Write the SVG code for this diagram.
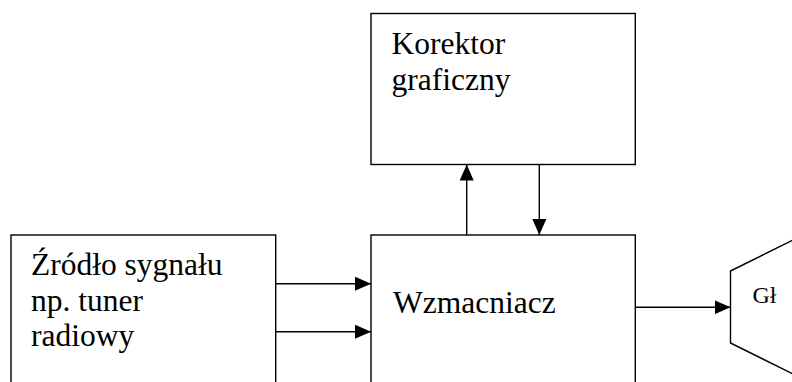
<svg xmlns="http://www.w3.org/2000/svg" width="792" height="382" viewBox="0 0 792 382">
<defs>
<style>
.box{fill:#fff;stroke:#000;stroke-width:1.4}
.t{font-family:"Liberation Serif","Times New Roman",serif;font-size:31.5px;fill:#000}
.c{stroke:#000;stroke-width:1.4;fill:none}
</style>
<marker id="ah" viewBox="0 0 16 14" refX="16" refY="7" markerWidth="16" markerHeight="14" markerUnits="userSpaceOnUse" orient="auto">
<path d="M0,0 L16,7 L0,14 Z" fill="#000"/>
</marker>
</defs>
<rect width="792" height="382" fill="#fff"/>
<g id="zrodlo">
<rect class="box" x="11" y="235" width="264.7" height="160"/>
<text class="t" x="31" y="275">Źródło sygnału</text>
<text class="t" x="31" y="310.5">np. tuner</text>
<text class="t" x="31" y="346">radiowy</text>
</g>
<g id="korektor">
<rect class="box" x="371" y="13.5" width="264.3" height="151"/>
<text class="t" x="391.5" y="53.5">Korektor</text>
<text class="t" x="391.5" y="89.5">graficzny</text>
</g>
<g id="wzmacniacz">
<rect class="box" x="371" y="235" width="264.3" height="160"/>
<text class="t" x="393" y="313.3">Wzmacniacz</text>
</g>
<g id="glosnik">
<polygon class="box" points="730.5,271 795,239 795,375 730.5,343"/>
<text x="752.5" y="302.7" font-family="Liberation Serif,Times New Roman,serif" font-size="24" fill="#000">Gł</text>
</g>
<g id="connectors">
<line class="c" x1="275.7" y1="283.7" x2="371" y2="283.7" marker-end="url(#ah)"/>
<line class="c" x1="275.7" y1="331.7" x2="371" y2="331.7" marker-end="url(#ah)"/>
<line class="c" x1="466.7" y1="235" x2="466.7" y2="164.5" marker-end="url(#ah)"/>
<line class="c" x1="539.3" y1="164.5" x2="539.3" y2="235" marker-end="url(#ah)"/>
<line class="c" x1="635.3" y1="307.3" x2="730.5" y2="307.3" marker-end="url(#ah)"/>
</g>
</svg>
